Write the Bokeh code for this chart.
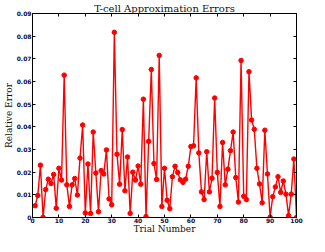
from bokeh.plotting import figure
from bokeh.models import LinearAxis, FixedTicker, Range1d
from bokeh.embed import file_html
from bokeh.resources import INLINE

trial = list(range(1, 101))
rel_error = [
    0.0052, 0.0097, 0.0231, 0.0001, 0.0123, 0.0169, 0.0150, 0.0190, 0.0041, 0.0217,
    0.0165, 0.0628, 0.0144, 0.0049, 0.0144, 0.0172, 0.0099, 0.0262, 0.0408, 0.0020,
    0.0236, 0.0018, 0.0377, 0.0196, 0.0025, 0.0207, 0.0192, 0.0298, 0.0082, 0.0056,
    0.0817, 0.0279, 0.0147, 0.0388, 0.0118, 0.0267, 0.0018, 0.0200, 0.0165, 0.0227,
    0.0147, 0.0522, 0.0004, 0.0336, 0.0653, 0.0238, 0.0168, 0.0715, 0.0049, 0.0217,
    0.0076, 0.0039, 0.0180, 0.0226, 0.0199, 0.0166, 0.0155, 0.0169, 0.0226, 0.0313,
    0.0316, 0.0616, 0.0285, 0.0113, 0.0079, 0.0290, 0.0113, 0.0173, 0.0527, 0.0199,
    0.0049, 0.0331, 0.0144, 0.0213, 0.0295, 0.0377, 0.0176, 0.0068, 0.0693, 0.0094,
    0.0079, 0.0643, 0.0430, 0.0389, 0.0217, 0.0148, 0.0065, 0.0385, 0.0192, 0.0001,
    0.0092, 0.0135, 0.0180, 0.0111, 0.0161, 0.0103, 0.0008, 0.0103, 0.0258, 0.0000,
]
x_ticks = [0, 10, 20, 30, 40, 50, 60, 70, 80, 90, 100]
y_ticks = [0, 0.01, 0.02, 0.03, 0.04, 0.05, 0.06, 0.07, 0.08, 0.09]
y_tick_labels = ["0", "0.01", "0.02", "0.03", "0.04", "0.05", "0.06", "0.07", "0.08", "0.09"]

p = figure(width=309, height=236, output_backend="svg", toolbar_location=None,
           x_range=Range1d(0, 100), y_range=Range1d(0, 0.09),
           title="T-cell Approximation Errors",
           min_border_left=25, min_border_right=13, min_border_top=11, min_border_bottom=0)

p.title.align = "center"
p.title.text_font = "DejaVu Serif"
p.title.text_font_style = "normal"
p.title.text_font_size = "10px"
p.title.text_color = "#111111"
p.title.offset = 9
p.title.standoff = 0

p.xgrid.visible = False
p.ygrid.visible = False
p.outline_line_color = "black"
p.outline_line_width = 1
p.background_fill_color = "white"
p.border_fill_color = "white"

p.line(trial, rel_error, line_color="#ff0000", line_width=1.4)
p.scatter(trial, rel_error, size=4.5, fill_color="#ff0000", line_color="#ff0000")

def style_axis(ax, ticks, labels=True):
    ax.ticker = FixedTicker(ticks=ticks)
    ax.major_tick_in = 3
    ax.major_tick_out = 0
    ax.minor_tick_line_color = None
    ax.axis_line_color = "black"
    ax.major_tick_line_color = "black"
    ax.major_label_text_font = "DejaVu Sans"
    ax.major_label_text_font_style = "bold"
    ax.major_label_text_font_size = "6px"
    ax.major_label_text_color = "#0a0a40"
    ax.major_label_standoff = 1
    ax.axis_label_text_font = "DejaVu Serif"
    ax.axis_label_text_font_style = "normal"
    ax.axis_label_text_font_size = "9px"
    ax.axis_label_text_color = "#111111"
    ax.axis_label_standoff = 0
    if not labels:
        ax.major_label_overrides = {t: "" for t in ticks}
        ax.major_label_standoff = 0

xa = p.xaxis[0]
style_axis(xa, x_ticks)
xa.axis_label = "Trial Number"
xa.axis_label_standoff = -2
xa.major_label_standoff = 0

ya = p.yaxis[0]
style_axis(ya, y_ticks)
ya.major_label_overrides = {t: l for t, l in zip(y_ticks, y_tick_labels)}
ya.axis_label = "Relative Error"

top = LinearAxis()
style_axis(top, x_ticks, labels=False)
p.add_layout(top, "above")
right = LinearAxis()
style_axis(right, y_ticks, labels=False)
p.add_layout(right, "right")

open("out.html", "w").write(file_html(p, INLINE))
